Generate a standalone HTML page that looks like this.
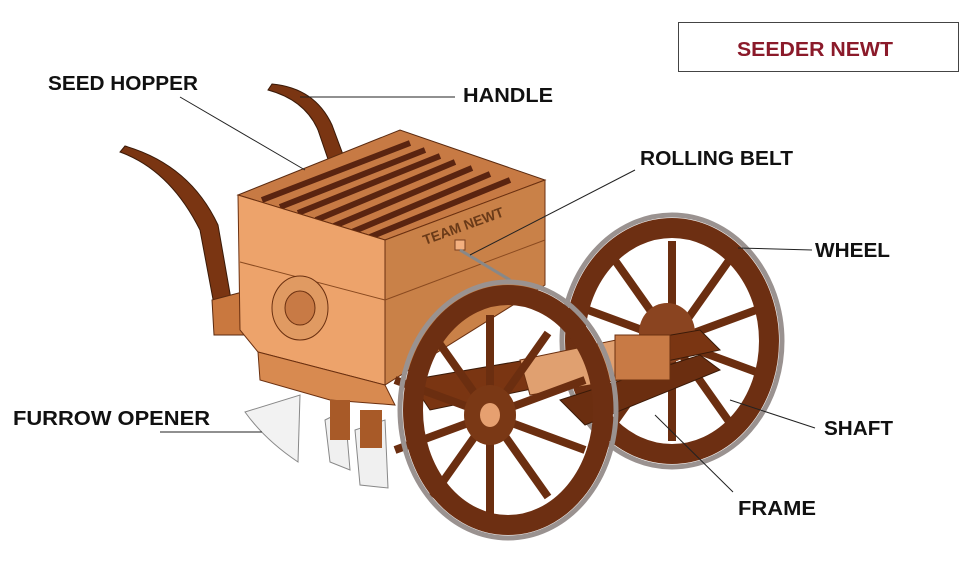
<!DOCTYPE html>
<html><head><meta charset="utf-8"><style>
html,body{margin:0;padding:0;background:#fff;width:960px;height:574px;overflow:hidden}
svg{display:block}
text{font-family:"Liberation Sans",sans-serif;font-weight:bold}
</style></head><body>
<svg width="960" height="574" viewBox="0 0 960 574">
<defs>
<g id="spokes">
<line x1="0" y1="0" x2="0" y2="-100"/><line x1="0" y1="0" x2="0" y2="100"/>
<line x1="0" y1="0" x2="58" y2="-82"/><line x1="0" y1="0" x2="-58" y2="82"/>
<line x1="0" y1="0" x2="-58" y2="-82"/><line x1="0" y1="0" x2="58" y2="82"/>
<line x1="0" y1="0" x2="95" y2="-35"/><line x1="0" y1="0" x2="-95" y2="35"/>
<line x1="0" y1="0" x2="-95" y2="-35"/><line x1="0" y1="0" x2="95" y2="35"/>
</g>
</defs>
<rect x="678.5" y="22.5" width="280" height="49" fill="#fff" stroke="#444" stroke-width="1"/>
<text x="737" y="56" font-size="20" fill="#8b1a2a" textLength="156" lengthAdjust="spacingAndGlyphs">SEEDER NEWT</text>

<path d="M120,152 Q170,170 200,230 L215,310 L232,305 L218,225 Q190,165 125,146 Z" fill="#7a3512" stroke="#3a1a08"/>
<path d="M268,90 Q305,100 318,130 L330,165 L345,160 L332,125 Q315,88 272,84 Z" fill="#7a3512" stroke="#3a1a08"/>
<path d="M212,300 L250,290 L258,335 L214,335 Z" fill="#c9783f" stroke="#5a2a10"/>

<g transform="translate(672,341)">
<use href="#spokes" stroke="#6b2e10" stroke-width="8"/>
<ellipse rx="110" ry="126" fill="none" stroke="#9a9290" stroke-width="5"/>
<ellipse rx="97" ry="113" fill="none" stroke="#6d2f12" stroke-width="20"/>
<ellipse cx="-5" cy="-8" rx="28" ry="30" fill="#8a4420"/>
</g>

<path d="M410,380 L700,330 L720,350 L430,410 Z" fill="#7a3512" stroke="#3a1a08"/>
<path d="M560,400 L700,355 L720,370 L585,425 Z" fill="#6b2e10" stroke="#3a1a08"/>
<path d="M520,360 L640,335 L650,375 L530,395 Z" fill="#e0a070" stroke="#6b3010"/>
<rect x="615" y="335" width="55" height="45" fill="#c87a45" stroke="#6b3010"/>

<path d="M238,195 L400,130 L545,180 L385,240 Z" fill="#c77a44" stroke="#5a2a10"/>
<g stroke="#5a2410" stroke-width="6">
<line x1="262" y1="200" x2="410" y2="143"/><line x1="280" y1="207" x2="425" y2="150"/>
<line x1="298" y1="213" x2="440" y2="156"/><line x1="316" y1="220" x2="455" y2="162"/>
<line x1="334" y1="226" x2="472" y2="168"/><line x1="352" y1="232" x2="490" y2="174"/>
<line x1="370" y1="237" x2="510" y2="180"/>
</g>
<path d="M238,195 L385,240 L385,385 L258,352 L240,330 Z" fill="#eda36b" stroke="#6b3010"/>
<path d="M385,240 L545,180 L545,285 L385,385 Z" fill="#c98148" stroke="#6b3010"/>
<line x1="240" y1="262" x2="385" y2="300" stroke="#8a4a20"/>
<line x1="385" y1="300" x2="545" y2="240" stroke="#8a4a20"/>
<text x="425" y="245" font-size="14" fill="#6a3a18" transform="rotate(-20 425 245)">TEAM NEWT</text>
<rect x="455" y="240" width="10" height="10" fill="#f3b080" stroke="#7a4020"/>
<line x1="460" y1="250" x2="510" y2="280" stroke="#888" stroke-width="3"/>
<ellipse cx="300" cy="308" rx="28" ry="32" fill="#e09a62" stroke="#6b3010"/>
<ellipse cx="300" cy="308" rx="15" ry="17" fill="#c87a45" stroke="#6b3010"/>
<path d="M258,352 L385,385 L395,405 L330,400 L260,380 Z" fill="#d88a50" stroke="#6b3010"/>

<path d="M245,412 L300,395 L298,462 Q265,440 245,412 Z" fill="#f2f2f2" stroke="#888"/>
<path d="M325,420 L345,410 L350,470 L330,462 Z" fill="#f0f0f0" stroke="#888"/>
<path d="M355,430 L385,420 L388,488 L360,485 Z" fill="#f0f0f0" stroke="#888"/>
<rect x="330" y="400" width="20" height="40" fill="#a85a28"/>
<rect x="360" y="410" width="22" height="38" fill="#a85a28"/>

<g transform="translate(508,410)">
<g transform="translate(-18,5)"><use href="#spokes" stroke="#6b2e10" stroke-width="8"/></g>
<ellipse rx="108" ry="128" fill="none" stroke="#9a9290" stroke-width="5"/>
<ellipse rx="95" ry="115" fill="none" stroke="#6d2f12" stroke-width="20"/>
<ellipse cx="-18" cy="5" rx="26" ry="30" fill="#7a3815"/>
<ellipse cx="-18" cy="5" rx="10" ry="12" fill="#e6a070"/>
</g>

<g stroke="#222" stroke-width="1" fill="none">
<line x1="180" y1="97" x2="305" y2="170"/>
<line x1="300" y1="97" x2="455" y2="97"/>
<line x1="635" y1="170" x2="470" y2="255"/>
<line x1="738" y1="248" x2="812" y2="250"/>
<line x1="730" y1="400" x2="815" y2="428"/>
<line x1="160" y1="432" x2="262" y2="432"/>
<line x1="655" y1="415" x2="733" y2="492"/>
</g>

<g font-size="20" fill="#111" lengthAdjust="spacingAndGlyphs">
<text x="48" y="90" textLength="150" lengthAdjust="spacingAndGlyphs">SEED HOPPER</text>
<text x="463" y="102" textLength="90" lengthAdjust="spacingAndGlyphs">HANDLE</text>
<text x="640" y="165" textLength="153" lengthAdjust="spacingAndGlyphs">ROLLING BELT</text>
<text x="815" y="257" textLength="75" lengthAdjust="spacingAndGlyphs">WHEEL</text>
<text x="824" y="435" textLength="69" lengthAdjust="spacingAndGlyphs">SHAFT</text>
<text x="13" y="425" textLength="197" lengthAdjust="spacingAndGlyphs">FURROW OPENER</text>
<text x="738" y="515" textLength="78" lengthAdjust="spacingAndGlyphs">FRAME</text>
</g>
</svg>
</body></html>
